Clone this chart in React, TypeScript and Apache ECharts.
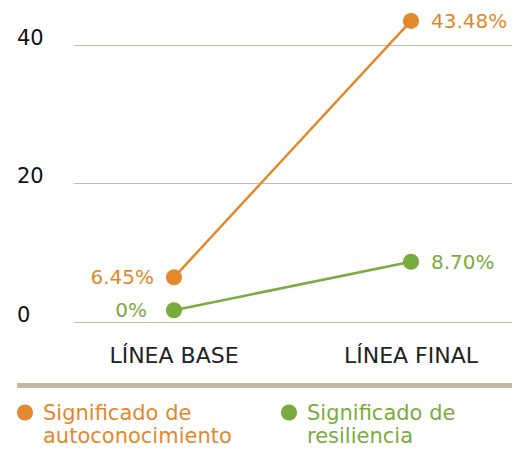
import React, { useEffect, useRef } from "react";
import * as echarts from "echarts";

const categories = ["LÍNEA BASE", "LÍNEA FINAL"];
const seriesNames = ["Significado de autoconocimiento", "Significado de resiliencia"];
const autoconocimientoValues = [6.45, 43.48];
const autoconocimientoLabels = ["6.45%", "43.48%"];
const resilienciaValues = [1.7, 8.7];
const resilienciaLabels = ["0%", "8.70%"];
const yTicks = [0, 20, 40];

const ORANGE = "#E3882B";
const GREEN = "#79AC3E";
const FONT = "DejaVu Sans";

export default function App() {
  const ref = useRef<HTMLDivElement>(null);
  useEffect(() => {
    document.body.style.margin = "0";
    const chart = echarts.init(ref.current!, undefined, { renderer: "svg" });
    const mk = (vals: number[], labels: string[], color: string, dists: number[]) =>
      vals.map((v, i) => ({
        value: [i, v],
        label: {
          show: true,
          position: i === 0 ? "left" : "right",
          distance: dists[i],
          formatter: labels[i],
          color,
          fontSize: 20,
          fontFamily: FONT,
        },
      }));
    const legendBase = {
      orient: "horizontal",
      icon: "circle",
      itemWidth: 16,
      itemHeight: 16,
      padding: 0,
      top: 378,
      selectedMode: false,
      formatter: (n: string) => "\n" + n.replace(" de ", " de\n"),
    };
    chart.setOption({
      animation: false,
      grid: { left: 74, right: 0, top: 45, height: 277, containLabel: false },
      xAxis: {
        type: "value",
        min: -0.4219,
        max: 1.4262,
        axisLine: { show: false },
        axisTick: { show: false },
        splitLine: { show: false },
        axisLabel: {
          customValues: categories.map((_, i) => i),
          formatter: (v: number) => categories[Math.round(v)] ?? "",
          color: "#222",
          fontSize: 22,
          fontFamily: FONT,
          margin: 22,
        },
      },
      yAxis: {
        type: "value",
        min: yTicks[0],
        max: yTicks[yTicks.length - 1],
        interval: 20,
        axisLine: { show: false },
        axisTick: { show: false },
        splitLine: { lineStyle: { color: "#C9BDA7", width: 1.2 } },
        axisLabel: {
          align: "left",
          verticalAlign: "bottom",
          margin: 57,
          color: "#111",
          fontSize: 21,
          fontFamily: FONT,
          padding: [0, 0, -3, 0],
        },
      },
      legend: [
        {
          ...legendBase,
          left: 17,
          data: [seriesNames[0]],
          textStyle: { color: ORANGE, fontSize: 21, fontFamily: FONT, lineHeight: 23, padding: [0, 0, 0, 5] },
        },
        {
          ...legendBase,
          left: 281,
          data: [seriesNames[1]],
          textStyle: { color: GREEN, fontSize: 21, fontFamily: FONT, lineHeight: 23, padding: [0, 0, 0, 5] },
        },
      ],
      graphic: [
        {
          type: "line",
          shape: { x1: 17, y1: 385.5, x2: 512, y2: 385.5 },
          style: { stroke: "#C5B9A1", lineWidth: 5 },
        },
      ],
      series: [
        {
          name: seriesNames[0],
          type: "line",
          clip: false,
          symbol: "circle",
          symbolSize: 16,
          itemStyle: { color: ORANGE },
          lineStyle: { color: ORANGE, width: 2.5 },
          data: mk(autoconocimientoValues, autoconocimientoLabels, ORANGE, [12, 12]),
        },
        {
          name: seriesNames[1],
          type: "line",
          clip: false,
          symbol: "circle",
          symbolSize: 16,
          itemStyle: { color: GREEN },
          lineStyle: { color: GREEN, width: 2.5 },
          data: mk(resilienciaValues, resilienciaLabels, GREEN, [19, 12]),
        },
      ],
    });
    return () => chart.dispose();
  }, []);
  return <div ref={ref} style={{ width: 512, height: 450 }} />;
}
